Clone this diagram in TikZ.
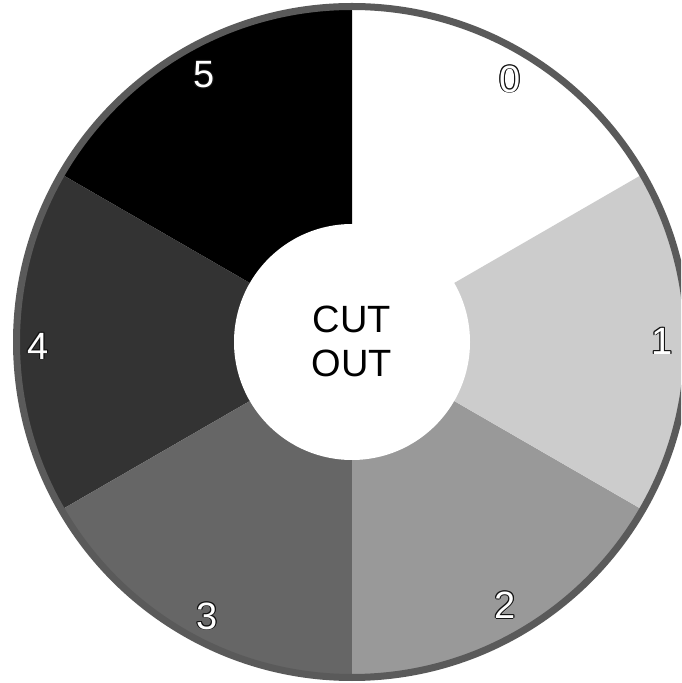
\documentclass[tikz,border=0pt]{standalone}
\usepackage{fontspec}
\setmainfont{Liberation Sans}
\definecolor{ringc}{RGB}{90,90,90}
\definecolor{s1}{RGB}{204,204,204}
\definecolor{s2}{RGB}{153,153,153}
\definecolor{s3}{RGB}{102,102,102}
\definecolor{s4}{RGB}{51,51,51}
\definecolor{s5}{RGB}{0,0,0}
\definecolor{olc}{RGB}{20,20,20}
\newcommand\olk[3]{\rlap{\kern#1\raisebox{#2}{\color{olc}#3}}}
\newcommand\olt[1]{\leavevmode
 \olk{0.9pt}{0pt}{#1}\olk{-0.9pt}{0pt}{#1}\olk{0pt}{0.9pt}{#1}\olk{0pt}{-0.9pt}{#1}%
 \olk{0.65pt}{0.65pt}{#1}\olk{-0.65pt}{0.65pt}{#1}\olk{0.65pt}{-0.65pt}{#1}\olk{-0.65pt}{-0.65pt}{#1}%
 {\color{white}#1}}
\begin{document}
\begin{tikzpicture}[x=1pt,y=1pt,
  lbl/.style={font=\fontsize{38}{38}\selectfont, inner sep=0pt, anchor=center},
  ctext/.style={font=\fontsize{38}{44}\selectfont, align=center, inner sep=0pt}]
\useasboundingbox (0,0) rectangle (681,683);
\clip (0,0) rectangle (681,683);
\fill[white] (0,0) rectangle (681,683);
\coordinate (C) at (352,341);
\def\R{335}
\fill[white] (C) -- ++(30:\R) arc[start angle=30,end angle=90,radius=\R] -- cycle;
\fill[s5] (C) -- ++(90:\R) arc[start angle=90,end angle=150,radius=\R] -- cycle;
\fill[s4] (C) -- ++(150:\R) arc[start angle=150,end angle=210,radius=\R] -- cycle;
\fill[s3] (C) -- ++(210:\R) arc[start angle=210,end angle=270,radius=\R] -- cycle;
\fill[s2] (C) -- ++(270:\R) arc[start angle=270,end angle=330,radius=\R] -- cycle;
\fill[s1] (C) -- ++(-30:\R) arc[start angle=-30,end angle=30,radius=\R] -- cycle;
\draw[ringc, line width=7pt] (C) circle[radius=335.5];
\fill[white] (C) circle[radius=118];
\node[ctext] (cut) at (352,342) {CUT\\OUT};
\node[lbl] (l0) at (510,604) {\olt{0}};
\node[lbl] (l1) at (662,342) {\olt{1}};
\node[lbl] (l2) at (505,78) {\olt{2}};
\node[lbl] (l3) at (207,67) {\olt{3}};
\node[lbl] (l4) at (38,337) {\olt{4}};
\node[lbl] (l5) at (204,608) {\olt{5}};
\end{tikzpicture}
\end{document}
